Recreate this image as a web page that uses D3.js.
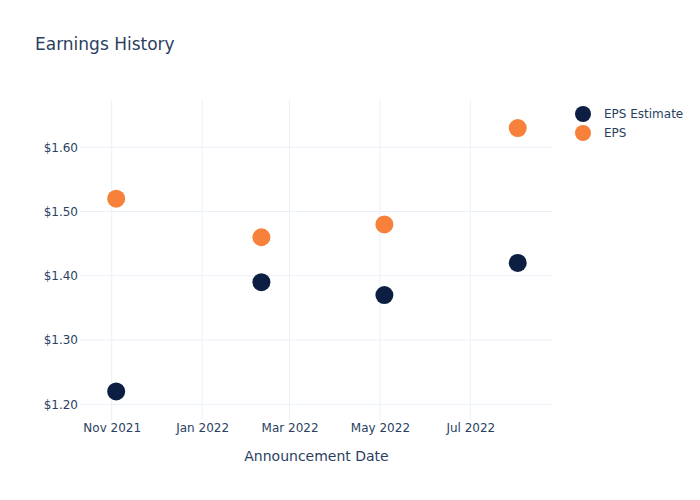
<!DOCTYPE html>
<html><head><meta charset="utf-8">
<script src="https://cdn.jsdelivr.net/npm/d3@7"></script>
<style>body{margin:0;background:#fff}svg{font-family:"DejaVu Sans",Verdana,sans-serif}</style>
</head><body><svg id="c" width="700" height="500"></svg>
<script>
const dates = ["2021-11-04","2022-02-10","2022-05-04","2022-08-02"];
const epsEstimate = [1.22, 1.39, 1.37, 1.42];
const eps = [1.52, 1.46, 1.48, 1.63];
const yTicks = [1.2, 1.3, 1.4, 1.5, 1.6];
const xTicks = ["2021-11-01","2022-01-01","2022-03-01","2022-05-01","2022-07-01"];
const seriesNames = ["EPS Estimate","EPS"];
const colors = ["#0c1f42","#f7813a"];

const parse = d3.utcParse("%Y-%m-%d");
const svg = d3.select("#c");
const m = {l:80, r:147, t:100, b:80};
const W = 700, H = 500;
const x = d3.scaleUtc()
  .domain([new Date(Date.UTC(2021,9,10,14)), new Date(Date.UTC(2022,7,25,19))])
  .range([m.l, W-m.r]);
const y = d3.scaleLinear().domain([1.1756, 1.6736]).range([H-m.b, m.t]);
const text = "#2a3f5f", grid = "#ebf0f8";

const g = svg.append("g");
g.selectAll(".gy").data(yTicks).join("line")
  .attr("x1", m.l).attr("x2", W-m.r)
  .attr("y1", d=>y(d)).attr("y2", d=>y(d))
  .attr("stroke", grid).attr("stroke-width",1);
g.selectAll(".gx").data(xTicks).join("line")
  .attr("x1", d=>x(parse(d))).attr("x2", d=>x(parse(d)))
  .attr("y1", m.t).attr("y2", H-m.b)
  .attr("stroke", grid).attr("stroke-width",1);

const yAxis = d3.axisLeft(y).tickValues(yTicks).tickSize(0).tickPadding(0).tickFormat(d=>"$"+d.toFixed(2));
const ya = svg.append("g").attr("transform",`translate(${m.l-2},0)`).call(yAxis);
ya.select(".domain").remove();
ya.selectAll("text").attr("fill",text).attr("font-size",12).attr("font-family","DejaVu Sans");

const xAxis = d3.axisBottom(x).tickValues(xTicks.map(parse)).tickSize(0).tickPadding(0).tickFormat(d3.utcFormat("%b %Y"));
const xa = svg.append("g").attr("transform",`translate(0,${H-m.b+3})`).call(xAxis);
xa.select(".domain").remove();
xa.selectAll("text").attr("fill",text).attr("font-size",12).attr("font-family","DejaVu Sans");

const series = [epsEstimate, eps];
series.forEach((vals, i) => {
  svg.append("g").selectAll("circle").data(vals).join("circle")
    .attr("cx", (d,j)=>x(parse(dates[j])))
    .attr("cy", d=>y(d))
    .attr("r", 9)
    .attr("fill", colors[i]);
});

svg.append("text").attr("x",35).attr("y",50).attr("fill",text).attr("font-size",17).text("Earnings History");
svg.append("text").attr("x",(m.l+W-m.r)/2).attr("y",461).attr("text-anchor","middle")
  .attr("fill",text).attr("font-size",14).text("Announcement Date");

const lg = svg.append("g");
seriesNames.forEach((n,i)=>{
  lg.append("circle").attr("cx",583).attr("cy",114+i*19).attr("r",8).attr("fill",colors[i]);
  lg.append("text").attr("x",604).attr("y",114+i*19+4).attr("fill",text).attr("font-size",12).text(n);
});
</script></body></html>
